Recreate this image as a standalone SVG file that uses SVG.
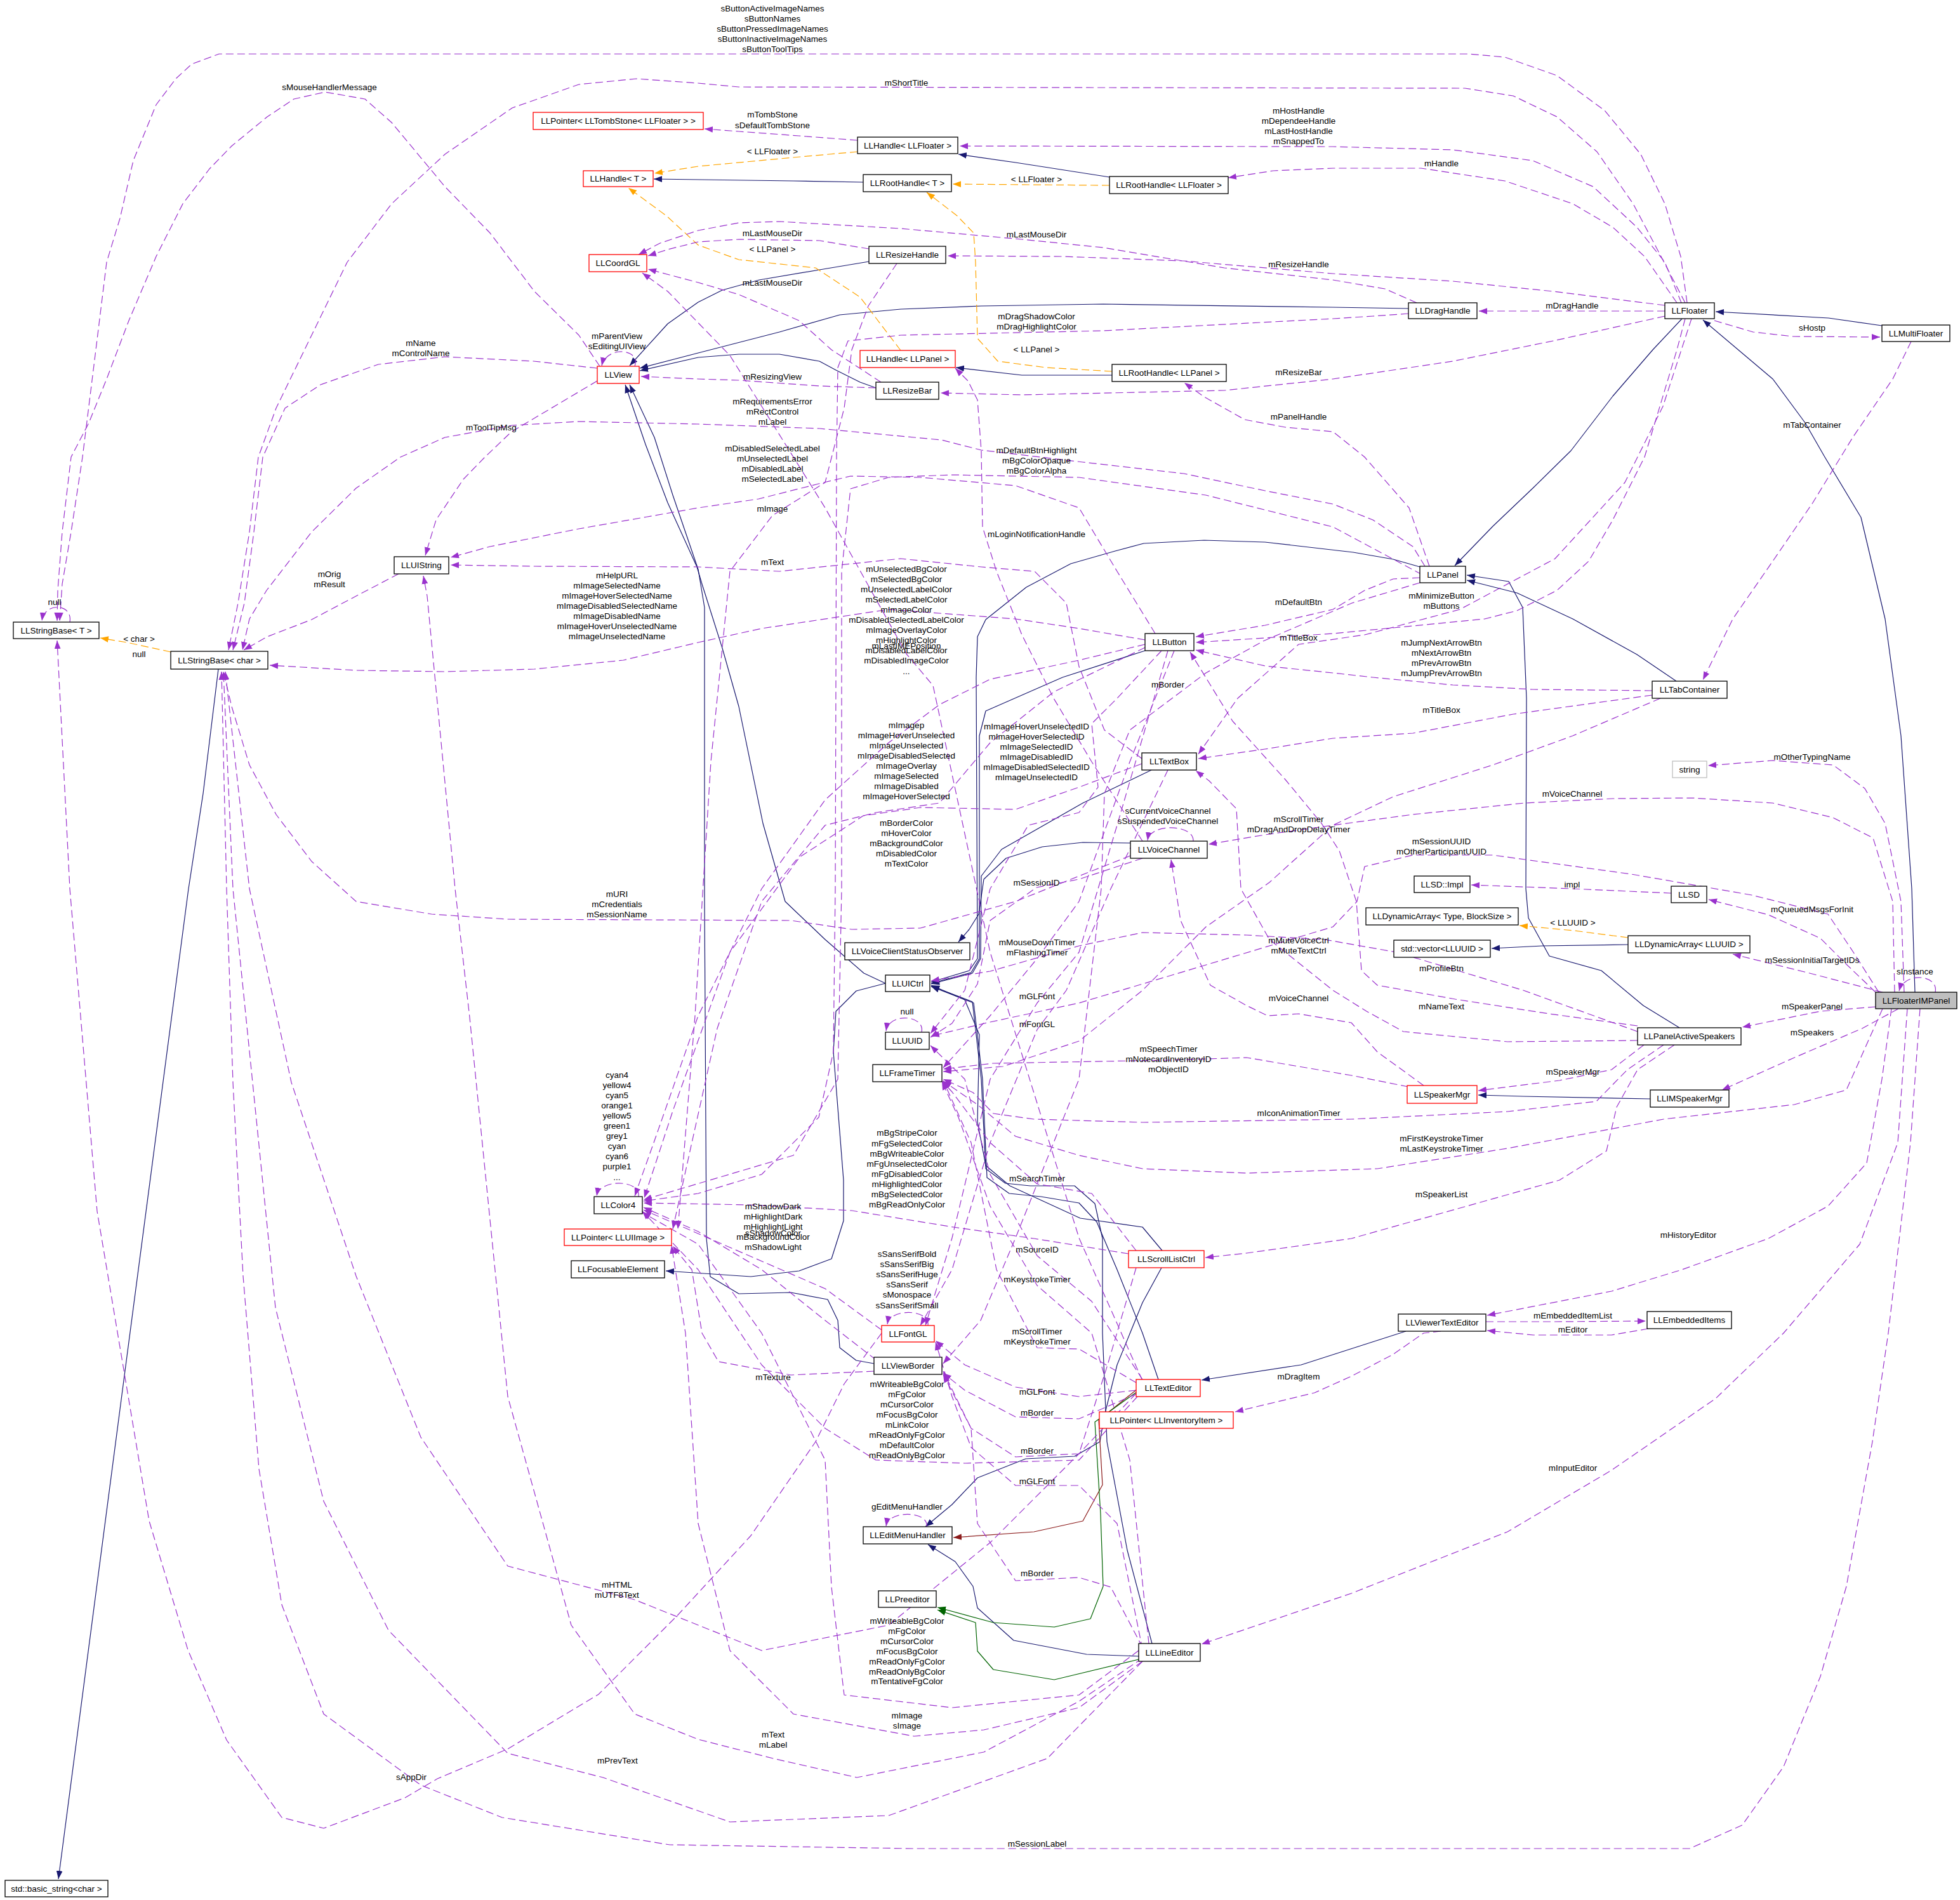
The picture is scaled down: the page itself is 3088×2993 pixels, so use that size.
<svg xmlns="http://www.w3.org/2000/svg" width="3088" height="2993" viewBox="0 0 3088 2993">
<style>
text{font-family:"Liberation Sans",Arial,sans-serif;font-size:13.5px;fill:#000;text-anchor:middle}
.n{fill:#fff;stroke:#000;stroke-width:1.3}
.r{fill:#fff;stroke:#ff0000;stroke-width:1.3}
.g{fill:#fff;stroke:#bfbfbf;stroke-width:1.3}
.f{fill:#bfbfbf;stroke:#000;stroke-width:1.3}
.e{fill:none;stroke:#9a32cd;stroke-width:1.2;stroke-dasharray:12,6;marker-end:url(#ap)}
.i{fill:none;stroke:#191970;stroke-width:1.2;marker-end:url(#an)}
.o{fill:none;stroke:#ffa500;stroke-width:1.2;stroke-dasharray:12,6;marker-end:url(#ao)}
.pr{fill:none;stroke:#8b1a1a;stroke-width:1.2;marker-end:url(#ar)}
.pg{fill:none;stroke:#006400;stroke-width:1.2;marker-end:url(#ag)}
</style>
<defs>
<marker id="ap" viewBox="0 0 12 9" refX="12" refY="4.5" markerWidth="13" markerHeight="10" markerUnits="userSpaceOnUse" orient="auto"><path d="M0,0 L12,4.5 L0,9 z" fill="#9a32cd"/></marker>
<marker id="an" viewBox="0 0 12 9" refX="12" refY="4.5" markerWidth="13" markerHeight="10" markerUnits="userSpaceOnUse" orient="auto"><path d="M0,0 L12,4.5 L0,9 z" fill="#191970"/></marker>
<marker id="ao" viewBox="0 0 12 9" refX="12" refY="4.5" markerWidth="13" markerHeight="10" markerUnits="userSpaceOnUse" orient="auto"><path d="M0,0 L12,4.5 L0,9 z" fill="#ffa500"/></marker>
<marker id="ar" viewBox="0 0 12 9" refX="12" refY="4.5" markerWidth="13" markerHeight="10" markerUnits="userSpaceOnUse" orient="auto"><path d="M0,0 L12,4.5 L0,9 z" fill="#8b1a1a"/></marker>
<marker id="ag" viewBox="0 0 12 9" refX="12" refY="4.5" markerWidth="13" markerHeight="10" markerUnits="userSpaceOnUse" orient="auto"><path d="M0,0 L12,4.5 L0,9 z" fill="#006400"/></marker>
</defs>
<rect width="3088" height="2993" fill="#fff"/>
<g id="edges" stroke-linejoin="round">
<path class="i" d="M1748,279 L1600,256 L1510,243"/>
<path class="i" d="M1360,287 L1250,285 L1030,282"/>
<path class="i" d="M1752,591 L1610,591 L1506,579"/>
<path class="i" d="M1369,412 L1291,425 L1196,441 L1138,457 L1100,476 L1052,510 L992,576"/>
<path class="i" d="M2219,486 L2100,484 L1738,479 L1546,482 L1419,487 L1323,496 L1228,523 L1100,556 L1008,580"/>
<path class="i" d="M1380,611 L1355,602 L1317,583 L1291,569 L1228,558 L1164,558 L1100,563 L1008,584"/>
<path class="i" d="M2650,502 L2604,551 L2541,624 L2475,710 L2415,769 L2352,829 L2292,891"/>
<path class="i" d="M2965,513 L2881,501 L2703,491"/>
<path class="i" d="M2237,893 L2195,881 L2132,870 L1993,854 L1897,851 L1802,856 L1757,868 L1687,888 L1617,925 L1553,976 L1540,1003 L1538,1067 L1540,1510 L1527,1529 L1467,1547"/>
<path class="i" d="M1804,1025 L1674,1067 L1553,1120 L1543,1159 L1543,1510 L1530,1532 L1467,1549"/>
<path class="i" d="M1814,1213 L1706,1265 L1578,1338 L1546,1380 L1545,1510 L1532,1533 L1467,1550"/>
<path class="i" d="M1781,1328 L1706,1327 L1642,1334 L1585,1352 L1550,1385 L1542,1440 L1527,1464 L1510,1484"/>
<path class="i" d="M1395,1549 L1361,1533 L1300,1480 L1237,1420 L1202,1297 L1164,1113 L1138,1021 L1106,920 L1098,893 L1052,792 L1017,700 L985,606"/>
<path class="i" d="M1377,2148 L1349,2143 L1323,2123 L1320,2080 L1304,2047 L1246,2036 L1164,2038 L1119,2011 L1113,1951 L1110,1420 L1110,957 L1100,897 L1060,780 L1031,689 L992,606"/>
<path class="i" d="M1395,1549 L1349,1561 L1317,1593 L1313,1657 L1329,1859 L1329,1923 L1310,1983 L1259,2002 L1183,2011 L1049,2002"/>
<path class="i" d="M1831,1970 L1800,1933 L1702,1919 L1591,1868 L1553,1836 L1540,1767 L1543,1630 L1520,1575 L1467,1552"/>
<path class="i" d="M1815,2589 L1776,2442 L1744,2271 L1737,2100 L1737,1951 L1725,1896 L1693,1868 L1623,1868 L1584,1864 L1553,1841 L1546,1700 L1532,1578 L1467,1553"/>
<path class="i" d="M1825,2173 L1800,2100 L1760,2000 L1728,1925 L1700,1895 L1640,1885 L1590,1880 L1555,1855 L1548,1700 L1534,1580 L1467,1554"/>
<path class="i" d="M1830,1997 L1800,2052 L1760,2150 L1740,2230 L1733,2271 L1693,2294 L1616,2298 L1540,2328 L1500,2370 L1458,2405"/>
<path class="i" d="M1794,2609 L1712,2606 L1597,2584 L1540,2533 L1533,2499 L1505,2460 L1462,2433"/>
<path class="i" d="M2215,2097 L2050,2150 L1893,2174"/>
<path class="i" d="M2600,1731 L2400,1727 L2329,1725"/>
<path class="i" d="M2646,1619 L2589,1584 L2523,1529 L2441,1506 L2408,1446 L2404,1400 L2405,1100 L2399,957 L2377,916 L2311,906"/>
<path class="i" d="M2641,1073 L2579,1031 L2478,975 L2390,934 L2311,914"/>
<path class="i" d="M2565,1488 L2430,1490 L2350,1494"/>
<path class="i" d="M3017,1563 L3012,1400 L2995,1159 L2970,975 L2932,815 L2875,720 L2844,666 L2793,597 L2683,504"/>
<path class="i" d="M344,1054 L320,1250 L297,1400 L194,2182 L92,2960"/>
<path class="pr" d="M1792,2188 L1731,2237 L1737,2339 L1706,2396 L1629,2413 L1502,2422"/>
<path class="pg" d="M1792,2192 L1725,2240 L1734,2385 L1738,2499 L1718,2550 L1661,2563 L1565,2556 L1477,2532"/>
<path class="pg" d="M1794,2614 L1661,2646 L1565,2630 L1540,2601 L1537,2556 L1477,2536"/>
<path class="o" d="M269,1027 L200,1012 L158,1005"/>
<path class="o" d="M1748,292 L1501,290"/>
<path class="o" d="M1351,239 L1250,248 L1100,262 L1031,273"/>
<path class="o" d="M1419,552 L1355,468 L1285,422 L1164,409 L1100,386 L1050,340 L990,296"/>
<path class="o" d="M1752,585 L1648,579 L1572,569 L1540,533 L1537,413 L1534,367 L1508,340 L1460,303"/>
<path class="o" d="M2565,1477 L2480,1466 L2394,1458"/>
<path class="e" d="M2658,477 L2648,404 L2623,321 L2585,243 L2528,174 L2453,119 L2371,90 L2314,85 L345,85 L302,101 L277,124 L246,165 L210,253 L189,344 L168,413 L151,551 L130,720 L112,838 L98,920 L94,978"/>
<path class="e" d="M2655,477 L2617,404 L2573,321 L2516,239 L2453,184 L2384,151 L2308,139 L1164,137 L1100,131 L1003,124 L912,133 L807,170 L701,243 L617,321 L547,413 L491,528 L435,643 L407,720 L393,838 L375,950 L360,1024"/>
<path class="e" d="M2649,477 L2623,413 L2579,358 L2510,294 L2415,253 L2289,236 L2100,231 L1512,230"/>
<path class="e" d="M2642,477 L2591,404 L2541,358 L2478,321 L2371,285 L2239,265 L2100,265 L2006,269 L1935,280"/>
<path class="e" d="M2623,481 L2447,459 L2289,443 L2100,431 L1865,411 L1674,404 L1493,403"/>
<path class="e" d="M1369,392 L1291,379 L1164,377 L1100,381 L1052,393 L1021,403"/>
<path class="e" d="M2232,477 L2182,455 L2100,441 L1929,422 L1738,390 L1610,377 L1419,360 L1228,349 L1164,351 L1100,363 L1040,383 L1006,401"/>
<path class="e" d="M1388,602 L1310,551 L1259,505 L1164,464 L1100,445 L1021,424"/>
<path class="e" d="M2623,490 L2330,490"/>
<path class="e" d="M2219,494 L2163,498 L2100,502 L1738,521 L1419,528 L1336,537 L1320,579 L1318,720 L1316,1400 L1313,1657 L1290,1760 L1200,1850 L1100,1880 L1014,1892"/>
<path class="e" d="M2623,498 L2447,537 L2289,569 L2100,597 L1929,615 L1610,622 L1482,619"/>
<path class="e" d="M1380,611 L1291,608 L1164,599 L1100,597 L1010,593"/>
<path class="e" d="M1000,577 C1010,548 955,545 948,576"/>
<path class="e" d="M941,580 L841,569 L701,562 L596,574 L505,606 L449,643 L414,720 L400,838 L385,950 L367,1024"/>
<path class="e" d="M941,600 L877,638 L806,680 L764,720 L730,755 L687,819 L670,875"/>
<path class="e" d="M945,577 L912,528 L842,459 L772,367 L701,294 L617,193 L575,156 L512,145 L463,156 L421,184 L365,230 L330,266 L288,321 L246,404 L203,505 L168,597 L140,666 L112,720 L98,838 L91,930 L90,978"/>
<path class="e" d="M628,904 L561,939 L491,976 L421,1003 L384,1024"/>
<path class="e" d="M2245,892 L2226,861 L2163,819 L2100,794 L1993,773 L1865,746 L1706,728 L1546,709 L1483,693 L1291,675 L1100,668 L912,664 L807,670 L701,689 L631,720 L561,769 L491,838 L420,930 L393,975 L382,1024"/>
<path class="e" d="M1351,221 L1259,214 L1164,207 L1110,203"/>
<path class="e" d="M2655,502 L2642,551 L2591,720 L2541,819 L2503,884 L2453,930 L2390,962 L2339,975 L2195,989 L2100,998 L1884,1012"/>
<path class="e" d="M2237,910 L2195,912 L2150,930 L2100,960 L1993,985 L1884,1003"/>
<path class="e" d="M2603,1088 L2415,1086 L2289,1079 L2163,1067 L2100,1060 L1993,1049 L1884,1024"/>
<path class="e" d="M2580,1616 L2441,1597 L2293,1574 L2170,1552 L2145,1529 L2137,1420 L2110,1340 L2082,1297 L2025,1228 L1942,1136 L1875,1027"/>
<path class="e" d="M2665,502 L2620,640 L2560,760 L2450,880 L2300,960 L2150,1000 L2046,1015 L1950,1100 L1888,1188"/>
<path class="e" d="M2603,1095 L2384,1125 L2226,1155 L2100,1163 L1993,1180 L1888,1195"/>
<path class="e" d="M2580,1639 L2375,1641 L2211,1625 L2153,1593 L2100,1560 L2000,1480 L1955,1400 L1948,1274 L1905,1230 L1884,1214"/>
<path class="e" d="M2701,505 L2762,523 L2825,530 L2962,531"/>
<path class="e" d="M3011,538 L2982,597 L2919,689 L2856,792 L2793,884 L2730,975 L2683,1071"/>
<path class="e" d="M2252,892 L2220,800 L2150,720 L2100,680 L2025,673 L1961,661 L1897,625 L1866,603"/>
<path class="e" d="M2237,918 L2130,950 L1990,1010 L1900,1060 L1780,1150 L1740,1250 L1735,1400 L1700,1700 L1600,1950 L1545,2080 L1486,2148"/>
<path class="e" d="M3000,1563 L2995,1420 L2970,1297 L2938,1242 L2888,1205 L2793,1198 L2691,1206"/>
<path class="e" d="M2985,1563 L2982,1420 L2951,1320 L2888,1288 L2793,1265 L2667,1257 L2541,1258 L2402,1265 L2226,1283 L2100,1300 L1993,1315 L1904,1330"/>
<path class="e" d="M2960,1563 L2920,1500 L2880,1440 L2760,1410 L2570,1377 L2352,1347 L2226,1347 L2150,1365 L2138,1420 L2100,1460 L1900,1520 L1700,1580 L1560,1610 L1467,1632"/>
<path class="e" d="M2955,1563 L2909,1519 L2868,1478 L2786,1441 L2692,1417"/>
<path class="e" d="M2966,1563 L2851,1533 L2730,1503"/>
<path class="e" d="M3049,1563 C3055,1535 3000,1530 2992,1561"/>
<path class="e" d="M2955,1586 L2868,1593 L2745,1618"/>
<path class="e" d="M2991,1589 L2934,1620 L2827,1666 L2713,1717"/>
<path class="e" d="M2966,1589 L2909,1717 L2827,1740 L2621,1763 L2375,1809 L2170,1841 L1964,1848 L1800,1841 L1700,1820 L1600,1790 L1540,1740 L1486,1703"/>
<path class="e" d="M2980,1589 L2965,1700 L2941,1832 L2880,1900 L2786,1951 L2650,2000 L2539,2034 L2343,2072"/>
<path class="e" d="M3005,1589 L2990,1800 L2930,1960 L2810,2100 L2703,2203 L2539,2316 L2375,2413 L2129,2510 L1893,2590"/>
<path class="e" d="M3025,1589 L3010,1800 L2975,2100 L2950,2271 L2909,2499 L2868,2641 L2810,2783 L2745,2875 L2662,2912 L1438,2912 L1055,2906 L791,2863 L663,2812 L510,2700 L444,2528 L408,2314 L383,2010 L367,1705 L357,1400 L349,1058"/>
<path class="e" d="M1790,2195 L1700,2290 L1560,2430 L1400,2560 L1200,2600 L1000,2520 L800,2467 L663,2264 L561,2010 L459,1705 L393,1400 L355,1058"/>
<path class="e" d="M1800,2617 L1650,2770 L1400,2860 L1150,2870 L950,2800 L800,2762 L612,2568 L510,2365 L434,2060 L367,1400 L352,1058"/>
<path class="e" d="M1389,2100 L1330,2180 L1285,2271 L1183,2419 L1068,2544 L943,2669 L800,2755 L689,2802 L638,2832 L510,2880 L444,2863 L357,2741 L296,2599 L235,2396 L153,1908 L110,1400 L90,1009"/>
<path class="e" d="M1800,2612 L1700,2680 L1550,2760 L1350,2800 L1218,2770 L1100,2740 L1000,2700 L900,2560 L800,2200 L740,1603 L717,1400 L694,1159 L673,939 L667,907"/>
<path class="e" d="M1781,1348 L1700,1380 L1600,1420 L1450,1462 L1342,1464 L1246,1450 L800,1448 L680,1440 L561,1420 L491,1357 L435,1283 L393,1205 L365,1113 L352,1058"/>
<path class="e" d="M1804,1008 L1700,990 L1600,975 L1400,960 L1200,990 L1100,1012 L982,1040 L842,1054 L701,1058 L561,1056 L425,1048"/>
<path class="e" d="M1820,998 L1760,900 L1700,800 L1600,765 L1450,752 L1340,750 L1290,762 L1195,786 L1100,800 L912,833 L772,861 L710,878"/>
<path class="e" d="M1799,1195 L1740,1150 L1700,1050 L1680,950 L1630,900 L1546,893 L1419,880 L1323,890 L1228,900 L1100,893 L842,892 L710,890"/>
<path class="e" d="M1413,415 L1368,482 L1342,551 L1330,643 L1300,760 L1217,812 L1150,900 L1120,1200 L1095,1600 L1068,1936"/>
<path class="e" d="M1804,1015 L1700,1040 L1560,1070 L1480,1110 L1400,1170 L1300,1260 L1200,1400 L1100,1600 L1030,1800 L1000,1884"/>
<path class="e" d="M1804,1020 L1660,1090 L1560,1170 L1480,1265 L1380,1280 L1300,1300 L1200,1420 L1130,1620 L1090,1800 L1060,1936"/>
<path class="e" d="M1830,1025 L1760,1100 L1720,1140 L1730,1240 L1700,1280 L1620,1300 L1560,1400 L1520,1560 L1466,1628"/>
<path class="e" d="M1799,1203 L1700,1240 L1600,1275 L1450,1272 L1360,1285 L1260,1350 L1150,1500 L1060,1750 L1015,1887"/>
<path class="e" d="M1800,1352 L1700,1385 L1633,1398 L1560,1450 L1540,1550 L1500,1612 L1466,1634"/>
<path class="e" d="M1880,1325 C1882,1298 1812,1296 1808,1324"/>
<path class="e" d="M2616,1100 L2478,1159 L2352,1205 L2195,1255 L2100,1300 L2000,1390 L1900,1460 L1800,1560 L1700,1640 L1580,1680 L1486,1688"/>
<path class="e" d="M2580,1625 L2400,1560 L2200,1500 L2087,1480 L1964,1473 L1800,1469 L1700,1490 L1560,1530 L1467,1545"/>
<path class="e" d="M2243,1710 L2170,1657 L2129,1611 L2046,1597 L1997,1600 L1964,1584 L1907,1552 L1860,1450 L1845,1354"/>
<path class="e" d="M2590,1646 L2539,1685 L2457,1702 L2329,1718"/>
<path class="e" d="M2219,1712 L2129,1694 L1964,1666 L1841,1670 L1565,1675 L1486,1684"/>
<path class="e" d="M2621,1646 L2564,1685 L2515,1735 L2375,1751 L2129,1763 L1800,1768 L1629,1763 L1565,1754 L1533,1721 L1486,1700"/>
<path class="e" d="M2638,1646 L2580,1685 L2547,1744 L2531,1813 L2457,1859 L2293,1905 L2129,1951 L1964,1974 L1899,1981"/>
<path class="e" d="M2341,2082 L2450,2082 L2593,2081"/>
<path class="e" d="M2597,2093 L2539,2103 L2416,2103 L2343,2096"/>
<path class="e" d="M2270,2097 L2243,2100 L2194,2134 L2129,2168 L2071,2194 L1946,2224"/>
<path class="e" d="M2633,1407 L2478,1400 L2318,1394"/>
<path class="e" d="M110,980 C115,950 70,948 66,978"/>
<path class="e" d="M1452,1626 C1458,1598 1400,1595 1396,1624"/>
<path class="e" d="M1006,1885 C1010,1858 945,1856 940,1884"/>
<path class="e" d="M1462,2088 C1466,2062 1402,2060 1398,2086"/>
<path class="e" d="M1460,2405 C1464,2380 1400,2378 1396,2404"/>
<path class="e" d="M1778,1975 L1629,1951 L1502,1933 L1342,1907 L1183,1898 L1014,1895"/>
<path class="e" d="M1380,2142 L1300,2080 L1200,2000 L1100,1940 L1014,1902"/>
<path class="e" d="M1389,2095 L1300,2030 L1150,1965 L1014,1906"/>
<path class="e" d="M1377,2160 L1246,2166 L1132,2145 L1106,2100 L1090,2000 L1060,1963"/>
<path class="e" d="M1792,2200 L1700,2300 L1520,2305 L1380,2300 L1300,2250 L1200,2150 L1100,2000 L1012,1908"/>
<path class="e" d="M1794,2600 L1700,2670 L1500,2690 L1330,2670 L1310,2500 L1300,2300 L1200,2100 L1100,1960 L1012,1910"/>
<path class="e" d="M1800,2617 L1700,2690 L1550,2725 L1440,2735 L1250,2700 L1150,2600 L1100,2400 L1080,2100 L1058,1962"/>
<path class="e" d="M1840,1025 L1760,1300 L1700,1500 L1634,1580 L1560,1700 L1500,1950 L1458,2088"/>
<path class="e" d="M1840,1213 L1750,1400 L1680,1560 L1634,1622 L1560,1800 L1500,2000 L1450,2088"/>
<path class="e" d="M1850,1025 L1780,1200 L1700,1420 L1634,1510 L1560,1600 L1486,1682"/>
<path class="e" d="M1790,1970 L1720,1880 L1634,1865 L1560,1800 L1500,1720 L1484,1703"/>
<path class="e" d="M1800,2173 L1720,2050 L1634,1978 L1560,1850 L1520,1700 L1466,1647"/>
<path class="e" d="M1810,2589 L1780,2300 L1720,2100 L1634,2025 L1560,1900 L1510,1760 L1484,1704"/>
<path class="e" d="M1790,2178 L1700,2125 L1634,2123 L1570,2000 L1530,1800 L1486,1702"/>
<path class="e" d="M1790,2190 L1700,2200 L1600,2185 L1520,2150 L1474,2112"/>
<path class="e" d="M1790,2196 L1700,2235 L1600,2232 L1520,2190 L1486,2163"/>
<path class="e" d="M1790,1997 L1745,2150 L1700,2290 L1600,2295 L1530,2250 L1486,2165"/>
<path class="e" d="M1800,2598 L1760,2400 L1700,2340 L1600,2340 L1530,2280 L1500,2200 L1474,2114"/>
<path class="e" d="M1800,2595 L1750,2500 L1700,2485 L1600,2490 L1540,2400 L1530,2250 L1486,2160"/>
<path class="e" d="M1800,2175 L1700,1950 L1560,1500 L1470,1080 L1428,1030 L1300,800 L1150,560 L1052,459 L1012,430"/>
<path class="e" d="M2240,905 L2100,830 L1900,780 L1700,752 L1500,748 L1400,752 L1340,770 L1326,900 L1326,1400 L1320,1700 L1250,1820 L1014,1890"/>
<path class="e" d="M1800,1325 L1720,1200 L1660,1100 L1610,1000 L1570,900 L1548,830 L1546,710 L1540,630 L1525,600 L1505,580"/>
</g>
<g id="labels">
<text x="1217" y="18">sButtonActiveImageNames</text>
<text x="1217" y="34">sButtonNames</text>
<text x="1217" y="50">sButtonPressedImageNames</text>
<text x="1217" y="66">sButtonInactiveImageNames</text>
<text x="1217" y="82">sButtonToolTips</text>
<text x="519" y="142">sMouseHandlerMessage</text>
<text x="1428" y="135">mShortTitle</text>
<text x="1217" y="185">mTombStone</text>
<text x="1217" y="202">sDefaultTombStone</text>
<text x="2046" y="179">mHostHandle</text>
<text x="2046" y="195">mDependeeHandle</text>
<text x="2046" y="211">mLastHostHandle</text>
<text x="2046" y="227">mSnappedTo</text>
<text x="1217" y="243">&lt; LLFloater &gt;</text>
<text x="2271" y="262">mHandle</text>
<text x="1633" y="287">&lt; LLFloater &gt;</text>
<text x="1217" y="372">mLastMouseDir</text>
<text x="1633" y="374">mLastMouseDir</text>
<text x="1217" y="397">&lt; LLPanel &gt;</text>
<text x="2046" y="421">mResizeHandle</text>
<text x="1217" y="450">mLastMouseDir</text>
<text x="2477" y="486">mDragHandle</text>
<text x="1633" y="503">mDragShadowColor</text>
<text x="1633" y="519">mDragHighlightColor</text>
<text x="2855" y="521">sHostp</text>
<text x="972" y="534">mParentView</text>
<text x="972" y="550">sEditingUIView</text>
<text x="663" y="545">mName</text>
<text x="663" y="561">mControlName</text>
<text x="1633" y="555">&lt; LLPanel &gt;</text>
<text x="2046" y="591">mResizeBar</text>
<text x="1217" y="598">mResizingView</text>
<text x="1217" y="637">mRequirementsError</text>
<text x="1217" y="653">mRectControl</text>
<text x="1217" y="669">mLabel</text>
<text x="2046" y="661">mPanelHandle</text>
<text x="2855" y="674">mTabContainer</text>
<text x="774" y="678">mToolTipMsg</text>
<text x="1217" y="711">mDisabledSelectedLabel</text>
<text x="1217" y="727">mUnselectedLabel</text>
<text x="1217" y="743">mDisabledLabel</text>
<text x="1217" y="759">mSelectedLabel</text>
<text x="1633" y="714">mDefaultBtnHighlight</text>
<text x="1633" y="730">mBgColorOpaque</text>
<text x="1633" y="746">mBgColorAlpha</text>
<text x="1217" y="806">mImage</text>
<text x="1633" y="846">mLoginNotificationHandle</text>
<text x="1217" y="890">mText</text>
<text x="1428" y="901">mUnselectedBgColor</text>
<text x="1428" y="917">mSelectedBgColor</text>
<text x="1428" y="933">mUnselectedLabelColor</text>
<text x="1428" y="949">mSelectedLabelColor</text>
<text x="1428" y="965">mImageColor</text>
<text x="1428" y="981">mDisabledSelectedLabelColor</text>
<text x="1428" y="997">mImageOverlayColor</text>
<text x="1428" y="1013">mHighlightColor</text>
<text x="1428" y="1022">mLastIMEPosition</text>
<text x="1428" y="1029">mDisabledLabelColor</text>
<text x="1428" y="1045">mDisabledImageColor</text>
<text x="1428" y="1062">...</text>
<text x="519" y="909">mOrig</text>
<text x="519" y="925">mResult</text>
<text x="972" y="911">mHelpURL</text>
<text x="972" y="927">mImageSelectedName</text>
<text x="972" y="943">mImageHoverSelectedName</text>
<text x="972" y="959">mImageDisabledSelectedName</text>
<text x="972" y="975">mImageDisabledName</text>
<text x="972" y="991">mImageHoverUnselectedName</text>
<text x="972" y="1007">mImageUnselectedName</text>
<text x="2271" y="943">mMinimizeButton</text>
<text x="2271" y="959">mButtons</text>
<text x="2046" y="953">mDefaultBtn</text>
<text x="86" y="953">null</text>
<text x="2046" y="1009">mTitleBox</text>
<text x="219" y="1011">&lt; char &gt;</text>
<text x="219" y="1035">null</text>
<text x="2271" y="1017">mJumpNextArrowBtn</text>
<text x="2271" y="1033">mNextArrowBtn</text>
<text x="2271" y="1049">mPrevArrowBtn</text>
<text x="2271" y="1065">mJumpPrevArrowBtn</text>
<text x="1840" y="1083">mBorder</text>
<text x="2271" y="1123">mTitleBox</text>
<text x="1428" y="1147">mImagep</text>
<text x="1428" y="1163">mImageHoverUnselected</text>
<text x="1428" y="1179">mImageUnselected</text>
<text x="1428" y="1195">mImageDisabledSelected</text>
<text x="1428" y="1211">mImageOverlay</text>
<text x="1428" y="1227">mImageSelected</text>
<text x="1428" y="1243">mImageDisabled</text>
<text x="1428" y="1259">mImageHoverSelected</text>
<text x="1633" y="1149">mImageHoverUnselectedID</text>
<text x="1633" y="1165">mImageHoverSelectedID</text>
<text x="1633" y="1181">mImageSelectedID</text>
<text x="1633" y="1197">mImageDisabledID</text>
<text x="1633" y="1213">mImageDisabledSelectedID</text>
<text x="1633" y="1229">mImageUnselectedID</text>
<text x="2855" y="1197">mOtherTypingName</text>
<text x="2477" y="1255">mVoiceChannel</text>
<text x="1840" y="1282">sCurrentVoiceChannel</text>
<text x="1840" y="1298">sSuspendedVoiceChannel</text>
<text x="2046" y="1295">mScrollTimer</text>
<text x="2046" y="1311">mDragAndDropDelayTimer</text>
<text x="1428" y="1301">mBorderColor</text>
<text x="1428" y="1317">mHoverColor</text>
<text x="1428" y="1333">mBackgroundColor</text>
<text x="1428" y="1349">mDisabledColor</text>
<text x="1428" y="1365">mTextColor</text>
<text x="2271" y="1330">mSessionUUID</text>
<text x="2271" y="1346">mOtherParticipantUUID</text>
<text x="1633" y="1395">mSessionID</text>
<text x="2477" y="1398">impl</text>
<text x="972" y="1413">mURI</text>
<text x="972" y="1429">mCredentials</text>
<text x="972" y="1445">mSessionName</text>
<text x="2855" y="1437">mQueuedMsgsForInit</text>
<text x="2478" y="1458">&lt; LLUUID &gt;</text>
<text x="2046" y="1486">mMuteVoiceCtrl</text>
<text x="2046" y="1502">mMuteTextCtrl</text>
<text x="1634" y="1489">mMouseDownTimer</text>
<text x="1634" y="1505">mFlashingTimer</text>
<text x="2855" y="1517">mSessionInitialTargetIDs</text>
<text x="2271" y="1530">mProfileBtn</text>
<text x="3017" y="1535">sInstance</text>
<text x="1634" y="1574">mGLFont</text>
<text x="2046" y="1577">mVoiceChannel</text>
<text x="2271" y="1590">mNameText</text>
<text x="2855" y="1590">mSpeakerPanel</text>
<text x="1429" y="1598">null</text>
<text x="1634" y="1618">mFontGL</text>
<text x="2855" y="1631">mSpeakers</text>
<text x="1841" y="1657">mSpeechTimer</text>
<text x="1841" y="1673">mNotecardInventoryID</text>
<text x="1841" y="1689">mObjectID</text>
<text x="2478" y="1693">mSpeakerMgr</text>
<text x="972" y="1698">cyan4</text>
<text x="972" y="1714">yellow4</text>
<text x="972" y="1730">cyan5</text>
<text x="972" y="1746">orange1</text>
<text x="972" y="1762">yellow5</text>
<text x="972" y="1778">green1</text>
<text x="972" y="1794">grey1</text>
<text x="972" y="1810">cyan</text>
<text x="972" y="1826">cyan6</text>
<text x="972" y="1842">purple1</text>
<text x="972" y="1859">...</text>
<text x="2046" y="1758">mIconAnimationTimer</text>
<text x="1429" y="1789">mBgStripeColor</text>
<text x="1429" y="1806">mFgSelectedColor</text>
<text x="1429" y="1822">mBgWriteableColor</text>
<text x="1429" y="1838">mFgUnselectedColor</text>
<text x="1429" y="1854">mFgDisabledColor</text>
<text x="1429" y="1870">mHighlightedColor</text>
<text x="1429" y="1886">mBgSelectedColor</text>
<text x="1429" y="1902">mBgReadOnlyColor</text>
<text x="2271" y="1798">mFirstKeystrokeTimer</text>
<text x="2271" y="1814">mLastKeystrokeTimer</text>
<text x="1634" y="1861">mSearchTimer</text>
<text x="2271" y="1886">mSpeakerList</text>
<text x="1218" y="1905">mShadowDark</text>
<text x="1218" y="1921">mHighlightDark</text>
<text x="1218" y="1937">mHighlightLight</text>
<text x="1218" y="1947">sShadowColor</text>
<text x="1218" y="1953">mBackgroundColor</text>
<text x="1218" y="1969">mShadowLight</text>
<text x="2660" y="1950">mHistoryEditor</text>
<text x="1634" y="1973">mSourceID</text>
<text x="1429" y="1980">sSansSerifBold</text>
<text x="1429" y="1996">sSansSerifBig</text>
<text x="1429" y="2012">sSansSerifHuge</text>
<text x="1429" y="2028">sSansSerif</text>
<text x="1429" y="2044">sMonospace</text>
<text x="1429" y="2061">sSansSerifSmall</text>
<text x="1634" y="2020">mKeystrokeTimer</text>
<text x="2478" y="2077">mEmbeddedItemList</text>
<text x="2478" y="2099">mEditor</text>
<text x="1634" y="2102">mScrollTimer</text>
<text x="1634" y="2118">mKeystrokeTimer</text>
<text x="2046" y="2173">mDragItem</text>
<text x="1218" y="2174">mTexture</text>
<text x="1429" y="2185">mWriteableBgColor</text>
<text x="1429" y="2201">mFgColor</text>
<text x="1429" y="2217">mCursorColor</text>
<text x="1429" y="2233">mFocusBgColor</text>
<text x="1429" y="2249">mLinkColor</text>
<text x="1429" y="2265">mReadOnlyFgColor</text>
<text x="1429" y="2281">mDefaultColor</text>
<text x="1429" y="2297">mReadOnlyBgColor</text>
<text x="1634" y="2197">mGLFont</text>
<text x="1634" y="2230">mBorder</text>
<text x="1634" y="2290">mBorder</text>
<text x="1634" y="2338">mGLFont</text>
<text x="2478" y="2317">mInputEditor</text>
<text x="1429" y="2378">gEditMenuHandler</text>
<text x="1634" y="2483">mBorder</text>
<text x="972" y="2501">mHTML</text>
<text x="972" y="2517">mUTF8Text</text>
<text x="1429" y="2558">mWriteableBgColor</text>
<text x="1429" y="2574">mFgColor</text>
<text x="1429" y="2590">mCursorColor</text>
<text x="1429" y="2606">mFocusBgColor</text>
<text x="1429" y="2622">mReadOnlyFgColor</text>
<text x="1429" y="2638">mReadOnlyBgColor</text>
<text x="1429" y="2653">mTentativeFgColor</text>
<text x="1429" y="2707">mImage</text>
<text x="1429" y="2723">sImage</text>
<text x="1218" y="2737">mText</text>
<text x="1218" y="2753">mLabel</text>
<text x="973" y="2778">mPrevText</text>
<text x="648" y="2804">sAppDir</text>
<text x="1634" y="2909">mSessionLabel</text>
</g>
<g id="node-LLPointerTombStone"><rect class="r" x="840" y="177" width="268" height="27"/><text x="974" y="195">LLPointer&lt; LLTombStone&lt; LLFloater &gt; &gt;</text></g>
<g id="node-LLHandleFloater"><rect class="n" x="1351" y="216" width="158" height="26"/><text x="1430" y="234">LLHandle&lt; LLFloater &gt;</text></g>
<g id="node-LLHandleT"><rect class="r" x="919" y="269" width="110" height="25"/><text x="974" y="286">LLHandle&lt; T &gt;</text></g>
<g id="node-LLRootHandleT"><rect class="n" x="1360" y="275" width="139" height="27"/><text x="1429.5" y="293">LLRootHandle&lt; T &gt;</text></g>
<g id="node-LLRootHandleFloater"><rect class="n" x="1748" y="278" width="187" height="27"/><text x="1841.5" y="296">LLRootHandle&lt; LLFloater &gt;</text></g>
<g id="node-LLResizeHandle"><rect class="n" x="1369" y="388" width="121" height="27"/><text x="1429.5" y="406">LLResizeHandle</text></g>
<g id="node-LLCoordGL"><rect class="r" x="928" y="401" width="91" height="27"/><text x="973.5" y="419">LLCoordGL</text></g>
<g id="node-LLDragHandle"><rect class="n" x="2219" y="477" width="108" height="25"/><text x="2273" y="494">LLDragHandle</text></g>
<g id="node-LLFloater"><rect class="n" x="2623" y="477" width="78" height="25"/><text x="2662" y="494">LLFloater</text></g>
<g id="node-LLMultiFloater"><rect class="n" x="2965" y="512" width="107" height="26"/><text x="3018.5" y="530">LLMultiFloater</text></g>
<g id="node-LLHandlePanel"><rect class="r" x="1355" y="552" width="150" height="27"/><text x="1430" y="570">LLHandle&lt; LLPanel &gt;</text></g>
<g id="node-LLRootHandlePanel"><rect class="n" x="1752" y="574" width="180" height="27"/><text x="1842" y="592">LLRootHandle&lt; LLPanel &gt;</text></g>
<g id="node-LLView"><rect class="r" x="941" y="577" width="66" height="27"/><text x="974" y="595">LLView</text></g>
<g id="node-LLResizeBar"><rect class="n" x="1380" y="602" width="99" height="27"/><text x="1429.5" y="620">LLResizeBar</text></g>
<g id="node-LLUIString"><rect class="n" x="621" y="877" width="86" height="27"/><text x="664" y="895">LLUIString</text></g>
<g id="node-LLPanel"><rect class="n" x="2237" y="892" width="72" height="26"/><text x="2273" y="910">LLPanel</text></g>
<g id="node-LLStringBaseT"><rect class="n" x="21" y="980" width="135" height="26"/><text x="88.5" y="998">LLStringBase&lt; T &gt;</text></g>
<g id="node-LLButton"><rect class="n" x="1804" y="998" width="77" height="27"/><text x="1842.5" y="1016">LLButton</text></g>
<g id="node-LLStringBaseChar"><rect class="n" x="269" y="1026" width="153" height="28"/><text x="345.5" y="1045">LLStringBase&lt; char &gt;</text></g>
<g id="node-LLTabContainer"><rect class="n" x="2603" y="1073" width="118" height="27"/><text x="2662" y="1091">LLTabContainer</text></g>
<g id="node-LLTextBox"><rect class="n" x="1799" y="1186" width="86" height="27"/><text x="1842" y="1204">LLTextBox</text></g>
<g id="node-string"><rect class="g" x="2635" y="1199" width="54" height="26"/><text x="2662" y="1217">string</text></g>
<g id="node-LLVoiceChannel"><rect class="n" x="1781" y="1325" width="121" height="27"/><text x="1841.5" y="1343">LLVoiceChannel</text></g>
<g id="node-LLSDImpl"><rect class="n" x="2228" y="1380" width="88" height="26"/><text x="2272" y="1398">LLSD::Impl</text></g>
<g id="node-LLSD"><rect class="n" x="2633" y="1396" width="56" height="26"/><text x="2661" y="1414">LLSD</text></g>
<g id="node-LLDynamicArrayType"><rect class="n" x="2152" y="1430" width="240" height="27"/><text x="2272" y="1448">LLDynamicArray&lt; Type, BlockSize &gt;</text></g>
<g id="node-LLDynamicArrayUUID"><rect class="n" x="2565" y="1474" width="192" height="27"/><text x="2661" y="1492">LLDynamicArray&lt; LLUUID &gt;</text></g>
<g id="node-stdvector"><rect class="n" x="2196" y="1481" width="152" height="27"/><text x="2272" y="1499">std::vector&lt;LLUUID &gt;</text></g>
<g id="node-LLVoiceClientStatusObserver"><rect class="n" x="1331" y="1485" width="197" height="27"/><text x="1429.5" y="1503">LLVoiceClientStatusObserver</text></g>
<g id="node-LLUICtrl"><rect class="n" x="1395" y="1536" width="70" height="26"/><text x="1430" y="1554">LLUICtrl</text></g>
<g id="node-LLFloaterIMPanel"><rect class="f" x="2955" y="1563" width="128" height="26"/><text x="3019" y="1581">LLFloaterIMPanel</text></g>
<g id="node-LLPanelActiveSpeakers"><rect class="n" x="2580" y="1619" width="163" height="27"/><text x="2661.5" y="1637">LLPanelActiveSpeakers</text></g>
<g id="node-LLUUID"><rect class="n" x="1395" y="1626" width="69" height="27"/><text x="1429.5" y="1644">LLUUID</text></g>
<g id="node-LLFrameTimer"><rect class="n" x="1375" y="1677" width="109" height="27"/><text x="1429.5" y="1695">LLFrameTimer</text></g>
<g id="node-LLSpeakerMgr"><rect class="r" x="2217" y="1710" width="110" height="28"/><text x="2272" y="1729">LLSpeakerMgr</text></g>
<g id="node-LLIMSpeakerMgr"><rect class="n" x="2600" y="1717" width="124" height="27"/><text x="2662" y="1735">LLIMSpeakerMgr</text></g>
<g id="node-LLColor4"><rect class="n" x="936" y="1885" width="76" height="27"/><text x="974" y="1903">LLColor4</text></g>
<g id="node-LLPointerUIImage"><rect class="r" x="889" y="1936" width="169" height="26"/><text x="973.5" y="1954">LLPointer&lt; LLUIImage &gt;</text></g>
<g id="node-LLScrollListCtrl"><rect class="r" x="1778" y="1970" width="119" height="27"/><text x="1837.5" y="1988">LLScrollListCtrl</text></g>
<g id="node-LLFocusableElement"><rect class="n" x="900" y="1986" width="147" height="27"/><text x="973.5" y="2004">LLFocusableElement</text></g>
<g id="node-LLEmbeddedItems"><rect class="n" x="2595" y="2066" width="133" height="27"/><text x="2661.5" y="2084">LLEmbeddedItems</text></g>
<g id="node-LLViewerTextEditor"><rect class="n" x="2203" y="2070" width="138" height="27"/><text x="2272" y="2088">LLViewerTextEditor</text></g>
<g id="node-LLFontGL"><rect class="r" x="1389" y="2088" width="83" height="26"/><text x="1430.5" y="2106">LLFontGL</text></g>
<g id="node-LLViewBorder"><rect class="n" x="1377" y="2138" width="107" height="27"/><text x="1430.5" y="2156">LLViewBorder</text></g>
<g id="node-LLTextEditor"><rect class="r" x="1790" y="2173" width="101" height="27"/><text x="1840.5" y="2191">LLTextEditor</text></g>
<g id="node-LLPointerInventoryItem"><rect class="r" x="1732" y="2224" width="211" height="26"/><text x="1837.5" y="2242">LLPointer&lt; LLInventoryItem &gt;</text></g>
<g id="node-LLEditMenuHandler"><rect class="n" x="1360" y="2405" width="140" height="27"/><text x="1430" y="2423">LLEditMenuHandler</text></g>
<g id="node-LLPreeditor"><rect class="n" x="1384" y="2506" width="91" height="26"/><text x="1429.5" y="2524">LLPreeditor</text></g>
<g id="node-LLLineEditor"><rect class="n" x="1794" y="2589" width="97" height="28"/><text x="1842.5" y="2608">LLLineEditor</text></g>
<g id="node-stdbasicstring"><rect class="n" x="8" y="2962" width="162" height="26"/><text x="89" y="2980">std::basic_string&lt;char &gt;</text></g>
</svg>
